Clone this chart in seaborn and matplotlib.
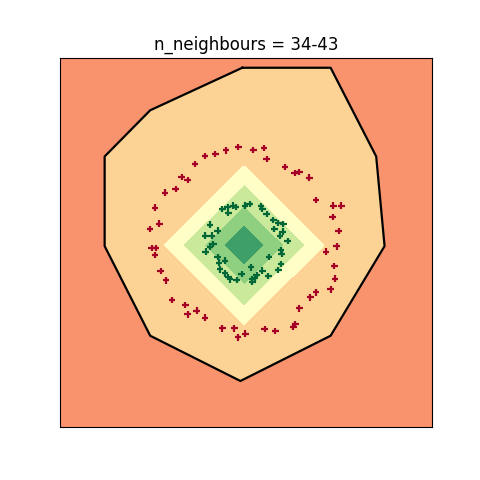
import numpy as np
import pandas as pd
import matplotlib
matplotlib.use("Agg")
import matplotlib.pyplot as plt
import seaborn as sns

# ---- data ----
red_x = [-0.082, 0.079, 0.194, 0.222, -0.215, -0.330, -0.441, -0.548, -0.692, -0.627,
         -0.756, -0.871, -0.978, -1.032, -0.932, -1.014, -0.968, -0.978, -0.918, -0.860,
         -0.796, -0.652, -0.627, -0.530, -0.441, -0.254, -0.125, -0.086, -0.007, 0.201,
         0.315, 0.509, 0.530, 0.573, 0.692, 0.753, 0.910, 0.957, 0.950, 0.975,
         0.860, 0.996, 0.932, 0.939, 1.025, 0.753, 0.681, 0.523, 0.573, 0.419]
red_y = [1.031, 1.002, 1.020, 0.904, 0.995, 0.959, 0.937, 0.850, 0.706, 0.673,
         0.579, 0.540, 0.377, 0.143, 0.204, -0.063, -0.063, -0.135, -0.309, -0.410,
         -0.623, -0.677, -0.778, -0.738, -0.814, -0.930, -0.930, -1.027, -0.987, -0.937,
         -0.958, -0.912, -0.883, -0.713, -0.594, -0.540, -0.507, -0.392, -0.255, -0.042,
         -0.099, 0.125, 0.273, 0.399, 0.399, 0.457, 0.702, 0.753, 0.760, 0.814]
green_x = [-0.255, -0.197, -0.190, -0.137, -0.111, -0.011, 0.038, -0.387, -0.304, -0.441,
           -0.369, -0.352, -0.387, 0.161, 0.175, 0.223, 0.294, 0.347, 0.401, 0.304,
           0.395, 0.366, 0.448, 0.376, -0.433, -0.304, -0.226, -0.290, -0.280, -0.226,
           -0.190, -0.172, -0.046, -0.100, 0.068, 0.054, 0.247, 0.376, 0.347, 0.175,
           0.115, 0.240, 0.097, 0.068, 0.384]
green_y = [0.363, 0.382, 0.323, 0.399, 0.382, 0.399, 0.417, 0.193, 0.128, 0.074,
           0.074, -0.016, -0.046, 0.396, 0.360, 0.306, 0.244, 0.208, 0.197, 0.143,
           0.117, 0.070, 0.016, -0.081, -0.100, -0.160, -0.197, -0.219, -0.291, -0.334,
           -0.377, -0.399, -0.341, -0.407, -0.399, -0.269, -0.160, -0.233, -0.298, -0.306,
           -0.352, -0.363, -0.388, -0.425, -0.125]

hull_x = [-0.04, 0.91, 1.40, 1.49, 0.91, -0.06, -1.03, -1.52, -1.52, -1.03, -0.04]
hull_y = [1.89, 1.89, 0.93, -0.04, -1.01, -1.50, -1.01, -0.04, 0.93, 1.43, 1.89]

region_center = (-0.02, -0.03)
region_levels = [0.0, 0.22, 0.43, 0.66, 0.86]
region_colors = ["#3e9f68", "#8ecf80", "#cbe99a", "#fefec6"]

title = "n_neighbours = 34-43"

# ---- plot ----
fig, ax = plt.subplots(figsize=(4.8, 4.8), dpi=100)
ax.set_facecolor("#f8936e")
ax.set_xlim(-2, 2)
ax.set_ylim(-2, 2)

ax.fill(hull_x, hull_y, color="#fdd395", zorder=1)
ax.plot(hull_x, hull_y, color="black", lw=1.6, zorder=2)

gx, gy = np.meshgrid(np.linspace(-2, 2, 400), np.linspace(-2, 2, 400))
gz = np.abs(gx - region_center[0]) + np.abs(gy - region_center[1])
ax.contourf(gx, gy, gz, levels=region_levels, colors=region_colors, zorder=3)

df = pd.DataFrame({
    "x": red_x + green_x,
    "y": red_y + green_y,
    "cls": ["0"] * len(red_x) + ["1"] * len(green_x),
})
sns.scatterplot(data=df, x="x", y="y", hue="cls",
                palette={"0": "#a50026", "1": "#006837"},
                marker="+", s=22, linewidth=1.6, legend=False, ax=ax, zorder=4)

ax.set_xticks([])
ax.set_yticks([])
ax.set_xlabel("")
ax.set_ylabel("")
ax.set_title(title, fontsize=12)
fig.savefig("out.png", dpi=100)
